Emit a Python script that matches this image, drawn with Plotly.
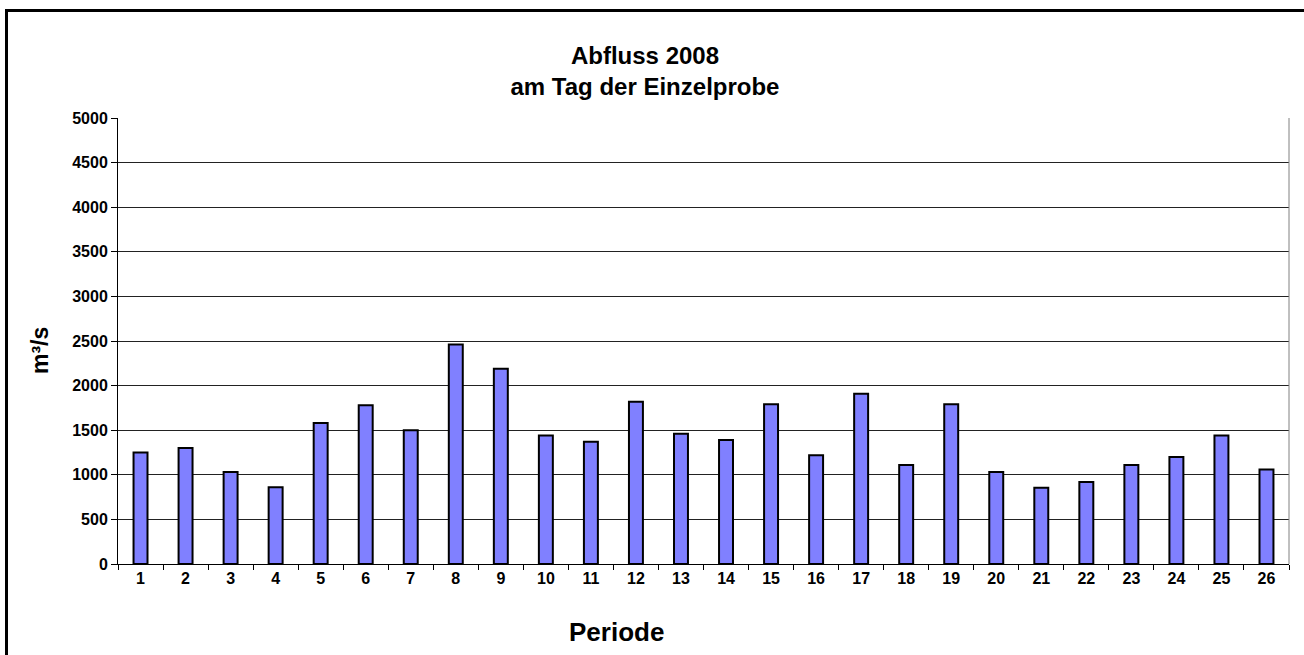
import plotly.graph_objects as go

periods = [str(i) for i in range(1, 27)]
abfluss = [1250, 1300, 1030, 860, 1580, 1780, 1500, 2460, 2190, 1440,
           1370, 1820, 1460, 1390, 1790, 1220, 1910, 1110, 1790, 1030,
           855, 920, 1110, 1200, 1440, 1060]
y_ticks = list(range(0, 5001, 500))

W, H = 1304, 655
L, R, T, B = 118, 15, 118, 91
pw, ph = W - L - R, H - T - B

def px(x):
    return (x - L) / pw

def py(y):
    return (H - B - y) / ph

fig = go.Figure(go.Bar(
    x=periods, y=abfluss, width=0.31,
    marker=dict(color="#8080FF", line=dict(color="black", width=2)),
))

font = "Arial, Liberation Sans, sans-serif"
fig.update_layout(
    width=W, height=H,
    margin=dict(l=L, r=R, t=T, b=B),
    paper_bgcolor="white", plot_bgcolor="white",
    showlegend=False,
    font=dict(family=font, color="black"),
    title=dict(text="<b>Abfluss 2008<br>am Tag der Einzelprobe</b>",
               x=645 / W, xanchor="center", y=1 - 64 / H, yanchor="middle",
               font=dict(size=24, family=font, color="black")),
    xaxis=dict(type="category", showline=True, linecolor="black", linewidth=1,
               ticks="outside", ticklen=5, tickcolor="black", tickson="boundaries",
               tickfont=dict(size=16, family=font, color="black", weight="bold"),
               showgrid=False, zeroline=False),
    yaxis=dict(range=[0, 5000], tickvals=y_ticks, showline=True, linecolor="black",
               linewidth=1, ticks="outside", ticklen=6, tickcolor="black",
               tickfont=dict(size=16, family=font, color="black", weight="bold"),
               showgrid=True, gridcolor="#222222", gridwidth=1, zeroline=False),
    annotations=[
        dict(text="<b>Periode</b>", xref="paper", yref="paper",
             x=px(616), y=py(632), xanchor="center", yanchor="middle",
             showarrow=False, font=dict(size=26, family=font, color="black")),
        dict(text="<b>m³/s</b>", xref="paper", yref="paper", textangle=-90,
             x=px(40), y=py(351), xanchor="center", yanchor="middle",
             showarrow=False, font=dict(size=23, family=font, color="black")),
    ],
    shapes=[
        dict(type="line", xref="paper", yref="paper", x0=1, x1=1, y0=0, y1=1,
             line=dict(color="#808080", width=1)),
        dict(type="rect", xref="paper", yref="paper",
             x0=px(6.5), x1=px(1320), y0=py(680), y1=py(10.5),
             line=dict(color="black", width=3)),
    ],
)

fig.write_html("out.html", config={"displayModeBar": False},
               post_script="document.body.style.margin='0';document.body.style.overflow='hidden';")
